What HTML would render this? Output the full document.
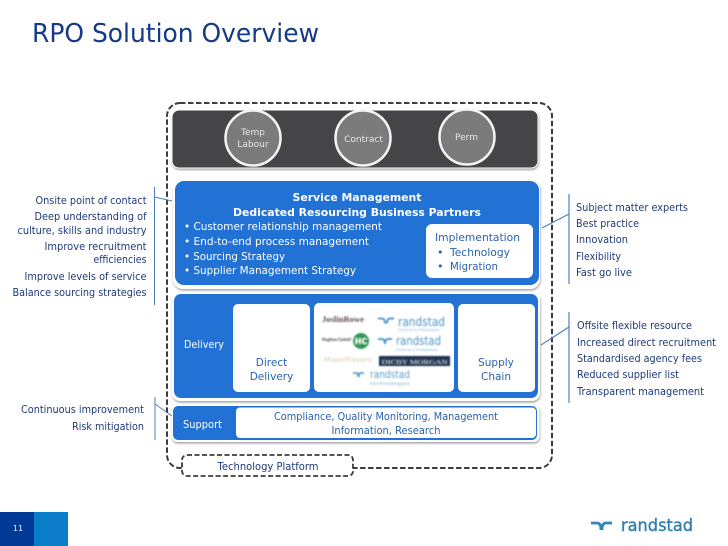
<!DOCTYPE html>
<html><head><meta charset="utf-8"><style>
html,body{margin:0;padding:0;background:#fff;width:728px;height:546px;overflow:hidden}
svg{display:block}
text{font-family:"DejaVu Sans","Liberation Sans",sans-serif}
.d{fill:#1f3a7a;font-size:10.5px}
.w{fill:#fff;font-size:10.5px}
.b{fill:#2a62ac;font-size:10.5px}
.g{fill:#e6e6e6;font-size:9px}
</style></head><body>
<svg width="728" height="546" viewBox="0 0 728 546" xmlns="http://www.w3.org/2000/svg">
<defs>
<filter id="bl" x="-5%" y="-5%" width="110%" height="110%"><feGaussianBlur stdDeviation="0.7"/></filter>
<filter id="sh" x="-3%" y="-8%" width="106%" height="120%"><feDropShadow dx="0.5" dy="1.500" stdDeviation="1" flood-color="#8a8a8a" flood-opacity="0.8"/></filter>
</defs>
<text x="32" y="42" font-size="26" fill="#153a86" textLength="287" lengthAdjust="spacingAndGlyphs">RPO Solution Overview</text>

<rect x="167" y="103" width="385" height="365" rx="13" fill="none" stroke="#3c3c3c" stroke-width="2" stroke-dasharray="5.500 2.500"/>

<rect x="172" y="110" width="366" height="58" rx="7" fill="#444446" stroke="#fff" stroke-width="1" filter="url(#sh)"/>
<g fill="#7b7b7b" stroke="#f4f4f4" stroke-width="2.500">
<circle cx="253" cy="138" r="27.500"/><circle cx="363" cy="138" r="27.500"/><circle cx="467" cy="137" r="27.500"/>
</g>
<text class="g" x="253" y="135" text-anchor="middle">Temp</text>
<text class="g" x="253" y="147" text-anchor="middle">Labour</text>
<text class="g" x="363.500" y="142" text-anchor="middle">Contract</text>
<text class="g" x="466.500" y="140" text-anchor="middle">Perm</text>

<rect x="173" y="179" width="367" height="110" rx="10" fill="#fff" filter="url(#sh)"/>
<rect x="175" y="181" width="364" height="104" rx="9" fill="#2271d4"/>
<text class="w" x="357" y="201" text-anchor="middle" font-weight="bold" textLength="129" lengthAdjust="spacingAndGlyphs">Service Management</text>
<text class="w" x="357" y="216" text-anchor="middle" font-weight="bold" textLength="248" lengthAdjust="spacingAndGlyphs">Dedicated Resourcing Business  Partners</text>
<text x="184" y="230" font-size="11" fill="#fff" textLength="198" lengthAdjust="spacingAndGlyphs">• Customer relationship management</text>
<text x="184" y="245" font-size="11" fill="#fff" textLength="185" lengthAdjust="spacingAndGlyphs">• End-to-end process management</text>
<text x="184" y="260" font-size="11" fill="#fff" textLength="101" lengthAdjust="spacingAndGlyphs">• Sourcing Strategy</text>
<text x="184" y="274" font-size="11" fill="#fff" textLength="172" lengthAdjust="spacingAndGlyphs">• Supplier Management Strategy</text>
<rect x="426" y="224" width="107" height="54" rx="6" fill="#fff"/>
<text x="435" y="241" font-size="11" fill="#2a62ac" textLength="85" lengthAdjust="spacingAndGlyphs">Implementation</text>
<text x="437" y="256" font-size="11" fill="#2a62ac">•</text>
<text x="450" y="256" font-size="11" fill="#2a62ac" textLength="60" lengthAdjust="spacingAndGlyphs">Technology</text>
<text x="437" y="270" font-size="11" fill="#2a62ac">•</text>
<text x="450" y="270" font-size="11" fill="#2a62ac" textLength="48" lengthAdjust="spacingAndGlyphs">Migration</text>

<rect x="172" y="292" width="368" height="109" rx="8" fill="#fff" filter="url(#sh)"/>
<rect x="174" y="294" width="364" height="104" rx="7" fill="#2271d4"/>
<text class="w" x="184" y="348" textLength="40" lengthAdjust="spacingAndGlyphs">Delivery</text>
<rect x="233" y="304" width="77" height="88" rx="5" fill="#fff"/>
<rect x="314" y="303" width="140" height="89" rx="5" fill="#fff"/>
<rect x="458" y="304" width="77" height="88" rx="5" fill="#fff"/>
<text class="b" x="271.500" y="366" text-anchor="middle">Direct</text>
<text class="b" x="271.500" y="380" text-anchor="middle">Delivery</text>
<text class="b" x="496" y="366" text-anchor="middle">Supply</text>
<text class="b" x="496" y="380" text-anchor="middle">Chain</text>

<g filter="url(#bl)">
<text x="322" y="322" font-size="8" font-weight="bold" fill="#5a4a45" style="font-family:'Liberation Serif',serif" textLength="42" lengthAdjust="spacingAndGlyphs">JoslinRowe</text>
<text x="322" y="341" font-size="4.500" font-weight="bold" fill="#555" textLength="29" lengthAdjust="spacingAndGlyphs">Hughes-Castell</text>
<circle cx="361" cy="341" r="8" fill="#2f9a55"/>
<text x="361" y="344" font-size="8" font-weight="bold" fill="#fff" text-anchor="middle">HC</text>
<text x="324" y="362" font-size="7" fill="#d8cfbb" textLength="48" lengthAdjust="spacingAndGlyphs">MajorPlayers</text>
<rect x="379" y="356" width="71" height="10" fill="#1d3350"/>
<text x="414.500" y="364" font-size="6.500" fill="#c9d2dc" text-anchor="middle" textLength="66" lengthAdjust="spacingAndGlyphs" style="font-family:'Liberation Serif',serif">DICBY MORGAN</text>
<text x="398" y="326" font-size="12" fill="#4f95c4" textLength="47" lengthAdjust="spacingAndGlyphs">randstad</text>
<text x="398" y="331" font-size="3.500" fill="#7fb2d2">Financial &amp; Professional</text>
<path d="M378 318.500h4q3 0 3 5M394 318.500h-4q-3 0-3 5" fill="none" stroke="#3f8fc2" stroke-width="1.800"/>
<text x="396" y="345" font-size="12" fill="#4f95c4" textLength="45" lengthAdjust="spacingAndGlyphs">randstad</text>
<text x="396" y="351" font-size="3.500" fill="#7fb2d2">Financial &amp; Professional</text>
<path d="M378 339h4q3 0 3 5M392 339h-4q-3 0-3 5" fill="none" stroke="#3f8fc2" stroke-width="1.800"/>
<text x="370" y="378" font-size="11" fill="#5f9cc9" textLength="40" lengthAdjust="spacingAndGlyphs">randstad</text>
<text x="370" y="385" font-size="4.500" fill="#7fb2d2" textLength="40" lengthAdjust="spacingAndGlyphs">technologies</text>
<path d="M353 373h3q3 0 3 4M364 373h-3q-3 0-3 4" fill="none" stroke="#3f8fc2" stroke-width="1.500"/>
</g>

<rect x="171.500" y="404" width="368" height="38" rx="6" fill="#fff" filter="url(#sh)"/>
<rect x="173" y="406" width="364" height="34" rx="5" fill="#2271d4"/>
<rect x="236" y="407.500" width="300" height="30.500" rx="4" fill="#fff"/>
<text class="w" x="183" y="428" textLength="39" lengthAdjust="spacingAndGlyphs">Support</text>
<text class="b" x="386" y="420" text-anchor="middle" textLength="224" lengthAdjust="spacingAndGlyphs">Compliance, Quality Monitoring, Management</text>
<text class="b" x="386" y="434" text-anchor="middle" textLength="109" lengthAdjust="spacingAndGlyphs">Information, Research</text>

<rect x="182" y="455" width="171" height="21" rx="5" fill="#fff" stroke="#3c3c3c" stroke-width="1.800" stroke-dasharray="5 2.500"/>
<text x="268" y="470" text-anchor="middle" font-size="10.500" fill="#1f3a7a" textLength="101" lengthAdjust="spacingAndGlyphs">Technology Platform</text>

<g fill="none" stroke="#4f80bd" stroke-width="1">
<path d="M154.500 187V305M154.500 197L172 201"/>
<path d="M155 397V440M155 404L172 416"/>
<path d="M569 194V284M569 214L542 228" stroke-width="1.200"/>
<path d="M569 312V403M569 327L541 345" stroke-width="1.200"/>
</g>

<text class="d" x="146.500" y="204" text-anchor="end" textLength="111" lengthAdjust="spacingAndGlyphs">Onsite point of contact</text>
<text class="d" x="146.500" y="220" text-anchor="end" textLength="112" lengthAdjust="spacingAndGlyphs">Deep understanding of</text>
<text class="d" x="146.500" y="234" text-anchor="end" textLength="129" lengthAdjust="spacingAndGlyphs">culture, skills and industry</text>
<text class="d" x="146.500" y="250" text-anchor="end" textLength="102" lengthAdjust="spacingAndGlyphs">Improve recruitment</text>
<text class="d" x="146.500" y="263" text-anchor="end" textLength="53" lengthAdjust="spacingAndGlyphs">efficiencies</text>
<text class="d" x="146.500" y="280" text-anchor="end" textLength="122" lengthAdjust="spacingAndGlyphs">Improve levels of service</text>
<text class="d" x="146.500" y="296" text-anchor="end" textLength="134" lengthAdjust="spacingAndGlyphs">Balance sourcing strategies</text>
<text class="d" x="144" y="413" text-anchor="end" textLength="123" lengthAdjust="spacingAndGlyphs">Continuous improvement</text>
<text class="d" x="144" y="430" text-anchor="end" textLength="72" lengthAdjust="spacingAndGlyphs">Risk mitigation</text>

<text class="d" x="576" y="211" textLength="112" lengthAdjust="spacingAndGlyphs">Subject matter experts</text>
<text class="d" x="576" y="227" textLength="63" lengthAdjust="spacingAndGlyphs">Best practice</text>
<text class="d" x="576" y="243" textLength="52" lengthAdjust="spacingAndGlyphs">Innovation</text>
<text class="d" x="576" y="260" textLength="45" lengthAdjust="spacingAndGlyphs">Flexibility</text>
<text class="d" x="576" y="276" textLength="56" lengthAdjust="spacingAndGlyphs">Fast go live</text>
<text class="d" x="577" y="329" textLength="115" lengthAdjust="spacingAndGlyphs">Offsite flexible resource</text>
<text class="d" x="577" y="346" textLength="139" lengthAdjust="spacingAndGlyphs">Increased direct recruitment</text>
<text class="d" x="577" y="362" textLength="125" lengthAdjust="spacingAndGlyphs">Standardised agency fees</text>
<text class="d" x="577" y="378" textLength="102" lengthAdjust="spacingAndGlyphs">Reduced supplier list</text>
<text class="d" x="577" y="395" textLength="127" lengthAdjust="spacingAndGlyphs">Transparent management</text>

<rect x="0" y="512" width="34" height="34" fill="#003a96"/>
<rect x="34" y="512" width="34" height="34" fill="#0a7cc8"/>
<text x="18" y="531" font-size="8" fill="#e8eef8" text-anchor="middle">11</text>

<path d="M591 523h6q4 0 4 7M612 523h-6q-4 0-4 7" fill="none" stroke="#2f86b8" stroke-width="2.800"/>
<text x="621" y="531" font-size="17" fill="#2f7fb0" stroke="#2f7fb0" stroke-width="0.400" textLength="72" lengthAdjust="spacingAndGlyphs">randstad</text>
</svg>
</body></html>
